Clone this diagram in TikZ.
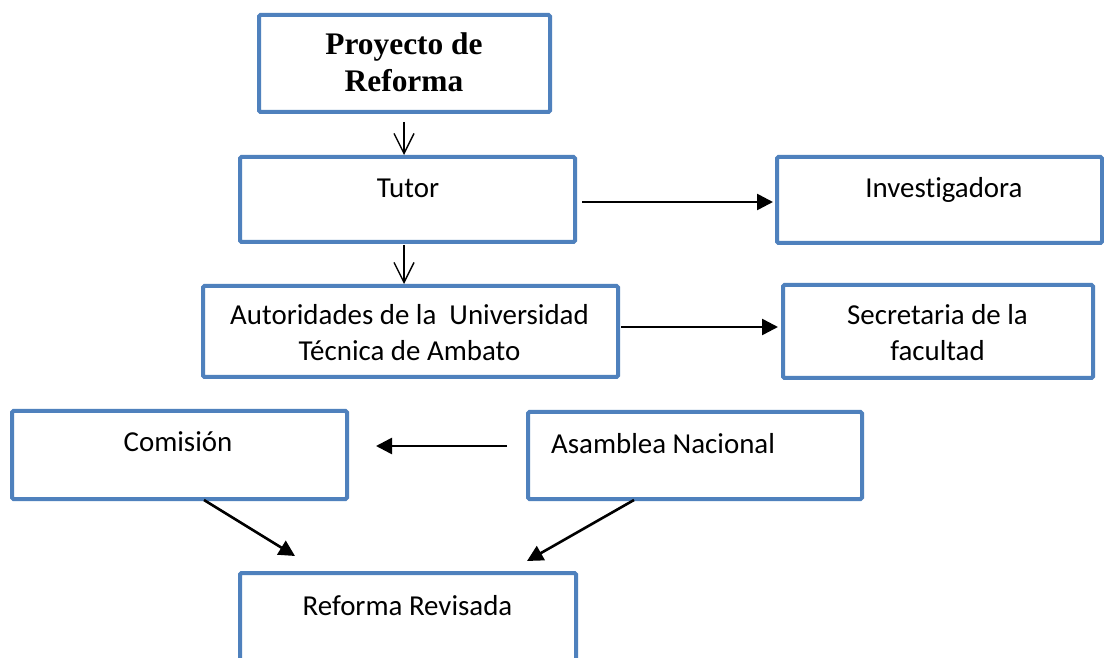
\documentclass[tikz,border=0pt]{standalone}
\usepackage{fontspec}
\usetikzlibrary{arrows.meta,calc}
\newfontfamily\calfont[Ligatures=NoCommon]{Carlito}
\newfontfamily\tnrfont{Liberation Serif}
\definecolor{boxblue}{RGB}{79,129,189}
\tikzset{
  box/.style={draw=boxblue, line width=4pt, rounded corners=1.5pt, inner sep=0pt, fill=white},
  lbl/.style={font=\calfont\fontsize{28.9}{36}\selectfont, inner sep=0pt, anchor=base, align=center},
  ttl/.style={font=\tnrfont\bfseries\fontsize{31.4}{37}\selectfont, inner sep=0pt, anchor=base, align=center},
  openarr/.style={line width=1.4pt, -{Straight Barb[length=20pt,width=20pt]}},
  solidarr/.style={line width=2.6pt, -{Triangle[length=16pt,width=16pt]}}
}
\begin{document}
\begin{tikzpicture}[x=1pt,y=1pt]
\clip (0,0) rectangle (1104,657);
\fill[white] (0,0) rectangle (1104,657);
% boxes
\node[box, minimum width=291pt, minimum height=97pt] (p) at (404.5,593.5) {};
\node[box, minimum width=335pt, minimum height=85pt] (tutor) at (407.5,457.5) {};
\node[box, minimum width=325pt, minimum height=86pt] (inv) at (939.5,457) {};
\node[box, minimum width=415pt, minimum height=91pt] (aut) at (410.5,325.5) {};
\node[box, minimum width=310pt, minimum height=93pt] (sec) at (938,325.5) {};
\node[box, minimum width=335pt, minimum height=88pt] (com) at (179.5,202) {};
\node[box, minimum width=334pt, minimum height=87pt] (asm) at (695,201.5) {};
\node[box, minimum width=336pt, minimum height=107pt] (ref) at (408,30.5) {};
% texts (multi-line nodes: base = last line's baseline)
\node[ttl] (pt) at (404,565) {Proyecto de\\Reforma};
\node[lbl] (tutort) at (408,459) {Tutor};
\node[lbl] (invt) at (944,459) {Investigadora};
\node[lbl] (autt) at (409.5,296) {Autoridades de la\ \ Universidad\\Técnica de Ambato};
\node[lbl] (sect) at (937.5,296) {Secretaria de la\\facultad};
\node[lbl] (comt) at (178,205) {Comisión};
\node[lbl, anchor=base west] (asmt) at (551,204) {Asamblea Nacional};
\node[lbl] (reft) at (407.5,42) {Reforma Revisada};
% connectors
\draw[openarr] ($(p.south)+(-0.5,-8)$) -- ($(p.south |- tutor.north)+(-0.5,0)$);
\draw[openarr] ($(p.south |- tutor.south)+(-0.5,-1)$) -- ($(p.south |- aut.north)+(-0.5,0)$);
\draw[solidarr] ($(tutor.east)+(5,-2.5)$) -- ($(inv.west)+(-2,-2)$);
\draw[solidarr] ($(aut.east)+(1,4.5)$) -- ($(sec.west)+(-3,4.5)$);
\draw[solidarr] ($(asm.west)+(-19,9.5)$) -- ($(com.east)+(27,9)$);
\draw[solidarr] ($(com.south)+(24.5,1)$) -- ($(ref.north)+(-113,15)$);
\draw[solidarr] ($(asm.south)+(-61,1)$) -- ($(ref.north)+(119,10)$);
\end{tikzpicture}
\end{document}
